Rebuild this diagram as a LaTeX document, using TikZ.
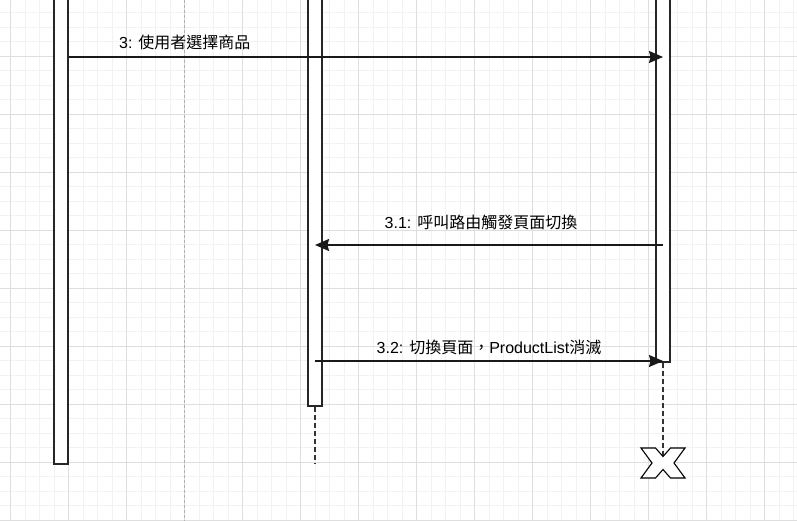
\documentclass[tikz,border=0pt]{standalone}
\usepackage{fontspec}
\setmainfont{Liberation Sans}
\newfontfamily\cjk{Noto Sans CJK TC}
\usetikzlibrary{arrows.meta}
\definecolor{gminor}{HTML}{F2F2F2}
\definecolor{gmajor}{HTML}{DEDEDE}
\definecolor{guide}{HTML}{B0B0B0}
\begin{document}
\begin{tikzpicture}[x=1pt,y=-1pt,
  actbox/.style={draw=black!85, line width=1.8pt, fill=white, minimum width=14pt, inner sep=0pt, anchor=north},
  msg/.style={line width=1.4pt, black!90, -{Stealth[length=14pt,width=12pt,inset=1.5pt]}},
  lbl/.style={font=\fontsize{16}{19}\selectfont, text=black, inner sep=0pt, anchor=base},
  life/.style={line width=1.6pt, black!80, dash pattern=on 5pt off 3pt},
  minorline/.style={gminor, line width=1pt},
  majorline/.style={gmajor, line width=1pt},
  guideline/.style={guide, line width=1pt, dash pattern=on 3pt off 2pt},
  xmark/.style={draw=black, fill=white, line width=1.1pt, line join=miter}]
\useasboundingbox (0,0) rectangle (797,521);
\clip (0,0) rectangle (797,521);
\fill[white] (0,0) rectangle (797,521);
% grid
\foreach \i in {0,...,55} {\pgfmathsetmacro\xx{-3.8+14.5*\i}\draw[minorline] (\xx,0) -- (\xx,521);}
\foreach \i in {0,...,36} {\pgfmathsetmacro\yy{-1.7+14.5*\i}\draw[minorline] (0,\yy) -- (797,\yy);}
\foreach \i in {0,...,13} {\pgfmathsetmacro\xx{10.7+58*\i}\draw[majorline] (\xx,0) -- (\xx,521);}
\foreach \i in {0,...,9} {\pgfmathsetmacro\yy{-1.7+58*\i}\draw[majorline] (0,\yy) -- (797,\yy);}
\draw[guideline] (184,0) -- (184,521);
% activation boxes
\node[actbox, minimum height=473pt] (lbox) at (61,-10) {};
\node[actbox, minimum height=415pt] (mbox) at (315,-10) {};
\node[actbox, minimum height=371pt] (rbox) at (663,-10) {};
% coordinates
\coordinate (m1) at (0,57);
\coordinate (m2) at (0,245);
\coordinate (m3) at (0,361);
\coordinate (mend) at (315,463);
\coordinate (xc) at (663,463);
\coordinate (xtop) at (663,456);
% lifelines
\draw[life] (mbox.south) -- (mend);
\draw[life] (rbox.south) -- (xtop);
% destroy mark
\draw[xmark, shift={(xc)}] (-22,-15) -- (-7.5,-15) -- (0,-6.5) -- (7.5,-15) -- (22,-15) -- (11,0) -- (22,15) -- (7.5,15) -- (0,6.5) -- (-7.5,15) -- (-22,15) -- (-11,0) -- cycle;
% messages
\draw[msg] (lbox.east |- m1) -- node[lbl, pos=0.195, yshift=8.5pt] {3: {\cjk 使用者選擇商品}} (rbox |- m1);
\draw[msg] (rbox |- m2) -- node[lbl, pos=0.523, yshift=16.7pt] {3.1: {\cjk 呼叫路由觸發頁面切換}} (mbox |- m2);
\draw[msg] (mbox |- m3) -- node[lbl, pos=0.5, yshift=7.7pt] {3.2: {\cjk 切換頁面，}ProductList{\cjk 消滅}} (rbox |- m3);
\end{tikzpicture}
\end{document}
